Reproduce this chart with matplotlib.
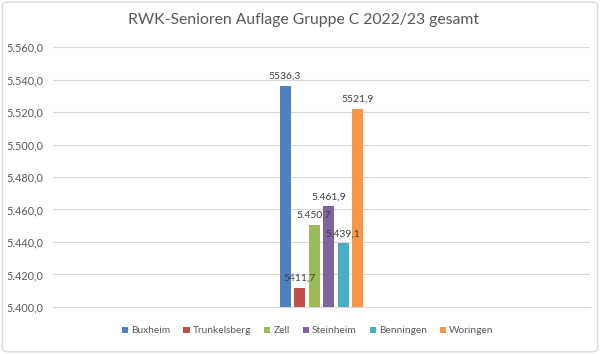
import matplotlib.pyplot as plt
from matplotlib.patches import FancyBboxPatch
from matplotlib.ticker import FuncFormatter

vereine = ["Buxheim", "Trunkelsberg", "Zell", "Steinheim", "Benningen", "Woringen"]
ringe = [5536.3, 5411.7, 5450.7, 5461.9, 5439.1, 5521.9]
beschriftung = ["5536,3", "5411,7", "5.450,7", "5.461,9", "5.439,1", "5521,9"]
farben = ["#4F81BD", "#C0504D", "#9BBB59", "#8064A2", "#4BACC6", "#F79646"]

plt.rcParams["font.family"] = ["Lato", "DejaVu Sans"]

fig = plt.figure(figsize=(6.0, 3.54), dpi=100)
ax = fig.add_axes([0.088, 0.133, 0.895, 0.734])

# Rahmen um das ganze Diagramm
fig.patches.append(FancyBboxPatch((0.004, 0.006), 0.992, 0.988, boxstyle="round,pad=0,rounding_size=0.01",
                                  transform=fig.transFigure, fill=False, edgecolor="#D9D9D9", linewidth=1))

breite = 0.0205
abstand = 0.027
for i, (name, wert, text, farbe) in enumerate(zip(vereine, ringe, beschriftung, farben)):
    x = (i - 2.5) * abstand
    ax.bar(x, wert - 5400, bottom=5400, width=breite, color=farbe, label=name, zorder=3)
    ax.annotate(text, (x, wert), xytext=(0, 3.5), textcoords="offset points",
                ha="center", va="bottom", fontsize=7.5, color="#404040", zorder=4)

ax.set_xlim(-0.5, 0.5)
ax.set_ylim(5400, 5560)
ax.set_yticks(range(5400, 5561, 20))
ax.yaxis.set_major_formatter(FuncFormatter(lambda v, p: f"{v:,.1f}".replace(",", "X").replace(".", ",").replace("X", ".")))
ax.set_xticks([])
ax.grid(axis="y", color="#D9D9D9", linewidth=0.8, zorder=0)
for s in ["top", "right", "left"]:
    ax.spines[s].set_visible(False)
ax.spines["bottom"].set_color("#D9D9D9")
ax.tick_params(axis="y", length=0, labelsize=7.8, labelcolor="#595959", pad=7)

fig.text(0.505, 0.943, "RWK-Senioren Auflage Gruppe C 2022/23 gesamt", fontsize=11.3, color="#595959",
         ha="center", va="center")

ax.legend(loc="upper center", bbox_to_anchor=(0.475, -0.04), ncol=6, frameon=False, fontsize=7.3,
          handlelength=0.6, handleheight=0.6, handletextpad=0.3, columnspacing=1.3, labelcolor="#595959")

fig.savefig("out.png", dpi=100)
